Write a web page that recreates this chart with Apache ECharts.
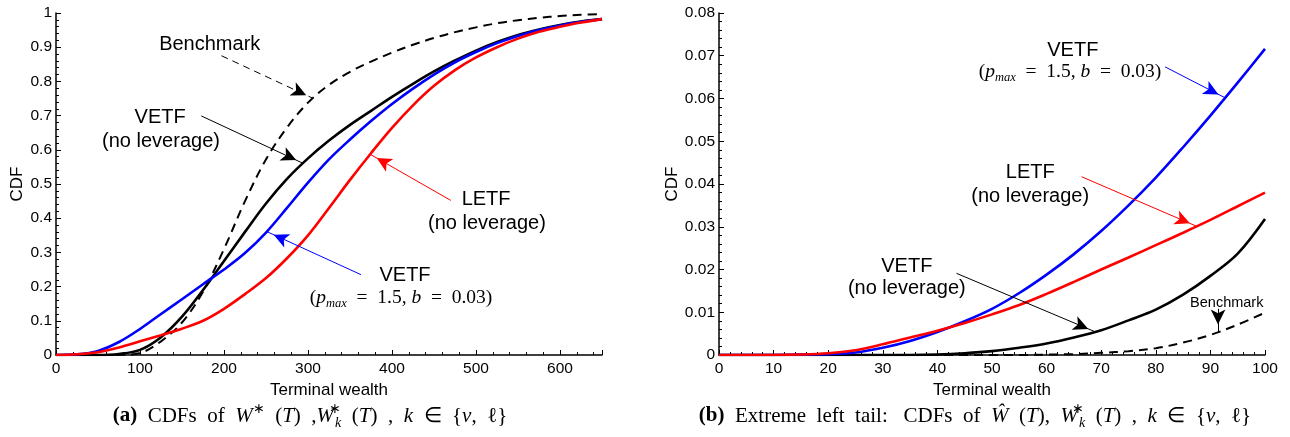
<!DOCTYPE html>
<html>
<head>
<meta charset="utf-8">
<script src="https://cdn.jsdelivr.net/npm/echarts@6/dist/echarts.min.js"></script>
<style>
  html, body { margin: 0; padding: 0; background: #ffffff; }
  #chart { width: 1290px; height: 437px; }
</style>
</head>
<body>
<div id="chart"></div>
<script>
// ---- Panel (a): CDFs of terminal wealth ----
const wealthA = [0, 25, 50, 75, 100, 125, 150, 175, 200, 225, 250, 275, 300, 325, 350,
                 375, 400, 425, 450, 475, 500, 525, 550, 575, 600, 625, 650];
const benchmarkA = [0, 0, 0, 0.0005, 0.006, 0.04, 0.095, 0.185, 0.31, 0.45, 0.572, 0.665, 0.738, 0.79, 0.828,
                    0.858, 0.884, 0.907, 0.927, 0.944, 0.958, 0.97, 0.979, 0.986, 0.991, 0.995, 0.997];
const vetfNoLevA = [0, 0, 0, 0.003, 0.015, 0.052, 0.112, 0.19, 0.275, 0.36, 0.443, 0.515, 0.575, 0.627, 0.673,
                    0.714, 0.755, 0.793, 0.829, 0.861, 0.89, 0.915, 0.936, 0.952, 0.965, 0.975, 0.982];
const vetfLevA = [0, 0.002, 0.012, 0.038, 0.076, 0.12, 0.163, 0.207, 0.25, 0.298, 0.358, 0.43, 0.504, 0.572, 0.63,
                  0.684, 0.734, 0.779, 0.82, 0.856, 0.886, 0.912, 0.933, 0.95, 0.963, 0.974, 0.982];
const letfA = [0, 0.002, 0.008, 0.022, 0.04, 0.058, 0.077, 0.1, 0.135, 0.178, 0.225, 0.283, 0.35, 0.43, 0.512,
               0.59, 0.664, 0.73, 0.787, 0.833, 0.87, 0.9, 0.925, 0.945, 0.96, 0.972, 0.982];

// ---- Panel (b): extreme left tail ----
const wealthB = [0, 5, 10, 15, 20, 25, 30, 35, 40, 45, 50, 55, 60, 65, 70, 75, 80, 85, 90, 95, 100];
const benchmarkB = [0, 0, 0, 0, 0, 0, 0, 0, 0, 0, 0, 0, 0.0001, 0.0002, 0.0005, 0.0009, 0.0016, 0.0029, 0.0047, 0.0071, 0.0099];
const vetfNoLevB = [0, 0, 0, 0, 0, 0, 0, 0, 0.0001, 0.0004, 0.0009, 0.0017, 0.0027, 0.0041, 0.0058, 0.0081, 0.0106, 0.0141, 0.0185, 0.0237, 0.0318];
const vetfLevB = [0, 0, 0, 0.0001, 0.0002, 0.0006, 0.0017, 0.0033, 0.0054, 0.0079, 0.0108, 0.0145, 0.0188, 0.0236, 0.029, 0.035, 0.0415, 0.0486, 0.056, 0.0637, 0.0716];
const letfB = [0, 0, 0, 0.0001, 0.0004, 0.0011, 0.0025, 0.0041, 0.0057, 0.0075, 0.0095, 0.0117, 0.0143, 0.0171, 0.02, 0.0228, 0.0257, 0.0286, 0.0316, 0.0348, 0.038];

const SANS = 'Liberation Sans, Arial, Helvetica, sans-serif';
const SERIF = 'Liberation Serif, Times New Roman, serif';
const BLACK = '#000000', BLUE = '#0000ff', RED = '#ff0000';

const pairs = (xs, ys) => xs.map((x, i) => [x, ys[i]]);
// linear lookup of a curve value, used to put arrow heads on the curves
function interp(xs, ys, x) {
  for (let i = 1; i < xs.length; i++) {
    if (x <= xs[i]) {
      const t = (x - xs[i - 1]) / (xs[i] - xs[i - 1]);
      return ys[i - 1] + t * (ys[i] - ys[i - 1]);
    }
  }
  return ys[ys.length - 1];
}

function arrow(tail, xs, ys, xTip, color, dashed) {
  return [
    { coord: tail, symbol: 'none',
      lineStyle: { color: color, width: 1, type: dashed ? [7, 5] : 'solid' } },
    { coord: [xTip, interp(xs, ys, xTip)], symbol: 'arrow', symbolSize: [11, 15], symbolOffset: [0, 7.5] }
  ];
}

function xAxisCfg(grid, max, step) {
  return {
    type: 'value', gridIndex: grid, min: 0, max: max, interval: step,
    name: 'Terminal wealth', nameLocation: 'middle', nameGap: 26,
    nameTextStyle: { fontFamily: SANS, fontSize: 17, color: BLACK },
    axisLine: { show: true, lineStyle: { color: BLACK, width: 1.5 } },
    axisTick: { show: true, inside: true, length: 5, lineStyle: { color: BLACK, width: 1 } },
    minorTick: { show: true, splitNumber: 5, length: 3, lineStyle: { color: BLACK, width: 1 } },
    splitLine: { show: false },
    axisLabel: { fontFamily: SANS, fontSize: 15.5, color: BLACK, margin: 6,
      formatter: v => (Math.abs(v / step - Math.round(v / step)) < 1e-6 ? String(v) : '') }
  };
}
function yAxisCfg(grid, max, step, gap) {
  return {
    type: 'value', gridIndex: grid, min: 0, max: max, interval: step,
    name: 'CDF', nameLocation: 'middle', nameGap: gap,
    nameTextStyle: { fontFamily: SANS, fontSize: 17, color: BLACK },
    axisLine: { show: true, lineStyle: { color: BLACK, width: 1.5 } },
    axisTick: { show: true, inside: true, length: 5, lineStyle: { color: BLACK, width: 1 } },
    minorTick: { show: true, splitNumber: 5, length: 3, lineStyle: { color: BLACK, width: 1 } },
    splitLine: { show: false },
    axisLabel: { fontFamily: SANS, fontSize: 15.5, color: BLACK, margin: 4 }
  };
}
function curve(grid, xs, ys, color, dashed) {
  return {
    type: 'line', xAxisIndex: grid, yAxisIndex: grid,
    data: pairs(xs, ys), showSymbol: false, smooth: 0.35,
    lineStyle: { color: color, width: dashed ? 2 : 2.6, type: dashed ? [9, 6] : 'solid' },
    itemStyle: { color: color }, silent: true, z: 3
  };
}
function notes(grid, lines) {
  return {
    type: 'line', xAxisIndex: grid, yAxisIndex: grid, data: [], silent: true, z: 4,
    markLine: { silent: true, animation: false, symbol: ['none', 'arrow'], label: { show: false },
      emphasis: { disabled: true }, data: lines }
  };
}

const option = {
  animation: false,
  backgroundColor: '#ffffff',
  grid: [
    { left: 56, top: 13, width: 546, height: 342, containLabel: false },
    { left: 719, top: 13, width: 546, height: 342, containLabel: false }
  ],
  xAxis: [xAxisCfg(0, 650, 100), xAxisCfg(1, 100, 10)],
  yAxis: [yAxisCfg(0, 1, 0.1, 30), yAxisCfg(1, 0.08, 0.01, 38)],
  series: [
    curve(0, wealthA, benchmarkA, BLACK, true),
    curve(0, wealthA, vetfNoLevA, BLACK, false),
    curve(0, wealthA, vetfLevA, BLUE, false),
    curve(0, wealthA, letfA, RED, false),
    notes(0, [
      arrow([197, 0.875], wealthA, benchmarkA, 306, BLACK, true),
      arrow([173, 0.699], wealthA, vetfNoLevA, 294, BLACK, false),
      arrow([470, 0.452], wealthA, letfA, 374, RED, false),
      arrow([363, 0.235], wealthA, vetfLevA, 251, BLUE, false)
    ]),
    curve(1, wealthB, benchmarkB, BLACK, true),
    curve(1, wealthB, vetfNoLevB, BLACK, false),
    curve(1, wealthB, vetfLevB, BLUE, false),
    curve(1, wealthB, letfB, RED, false),
    notes(1, [
      arrow([81.7, 0.0674], wealthB, vetfLevB, 92.7, BLUE, false),
      arrow([66.4, 0.0417], wealthB, letfB, 87.5, RED, false),
      arrow([43.5, 0.0191], wealthB, vetfNoLevB, 68.9, BLACK, false),
      arrow([91.4, 0.0108], wealthB, benchmarkB, 91.4, BLACK, false)
    ])
  ]
};

const chart = echarts.init(document.getElementById('chart'), null, { renderer: 'canvas' });
chart.setOption(option);

const mathRich = {
  i: { fontFamily: SERIF, fontStyle: 'italic', fontSize: 19.5 },
  sub: { fontFamily: SERIF, fontStyle: 'italic', fontSize: 12.5, lineHeight: 12, verticalAlign: 'bottom' }
};
function label(grid, at, text, size, font, rich) {
  const p = chart.convertToPixel({ gridIndex: grid }, at);
  return {
    type: 'text', x: p[0], y: p[1], z: 10, silent: true,
    style: { text: text, fontFamily: font || SANS, fontSize: size || 20, fill: BLACK,
      align: 'center', verticalAlign: 'middle', lineHeight: 24, rich: rich || {} }
  };
}
const SP = '\u2002';
const formula = '({i|p}{sub|max}' + SP + '=' + SP + '1.5, {i|b}' + SP + '=' + SP + '0.03)';

const capRich = {
  b: { fontFamily: SERIF, fontWeight: 'bold', fontSize: 21 },
  i: { fontFamily: SERIF, fontStyle: 'italic', fontSize: 21 },
  sup: { fontFamily: SERIF, fontSize: 14, lineHeight: 15, verticalAlign: 'top' },
  supk: { fontFamily: SERIF, fontSize: 14, lineHeight: 15, verticalAlign: 'top', width: 1 },
  sub: { fontFamily: SERIF, fontStyle: 'italic', fontSize: 14, lineHeight: 13, verticalAlign: 'bottom' }
};
function caption(x, text) {
  return {
    type: 'text', x: x, y: 416, z: 10, silent: true,
    style: { text: text, fontFamily: SERIF, fontSize: 21, fill: BLACK,
      align: 'center', verticalAlign: 'middle', lineHeight: 28, rich: capRich }
  };
}

chart.setOption({
  graphic: [
    label(0, [183, 0.909], 'Benchmark'),
    label(0, [124, 0.695], 'VETF'),
    label(0, [125, 0.625], '(no leverage)'),
    label(0, [512, 0.4545], 'LETF'),
    label(0, [513, 0.384], '(no leverage)'),
    label(0, [415.5, 0.2317], 'VETF'),
    label(0, [410.7, 0.167], formula, 19.5, SERIF, mathRich),
    label(1, [64.8, 0.0713], 'VETF'),
    label(1, [64.3, 0.0662], formula, 19.5, SERIF, mathRich),
    label(1, [57, 0.0426], 'LETF'),
    label(1, [57, 0.037], '(no leverage)'),
    label(1, [34.4, 0.0206], 'VETF'),
    label(1, [34.4, 0.01556], '(no leverage)'),
    label(1, [93, 0.01216], 'Benchmark', 14.5),
    caption(310, '{b|(a)}' + SP + 'CDFs' + SP + 'of' + SP + '{i|W}{sup|∗}' + SP + '({i|T})' + SP + ',{i|W}{supk|∗}{sub|k}' + SP +
      '({i|T})' + SP + ',' + SP + '{i|k}' + SP + '∈' + SP + '{{i|v},' + SP + 'ℓ}'),
    caption(975, '{b|(b)}' + SP + 'Extreme' + SP + 'left' + SP + 'tail:' + SP + ' CDFs' + SP + 'of' + SP + '{i|Ŵ}' + SP + '({i|T}),' + SP +
      '{i|W}{supk|∗}{sub|k}' + SP + '({i|T})' + SP + ',' + SP + '{i|k}' + SP + '∈' + SP + '{{i|v},' + SP + 'ℓ}')
  ]
});
</script>
</body>
</html>
